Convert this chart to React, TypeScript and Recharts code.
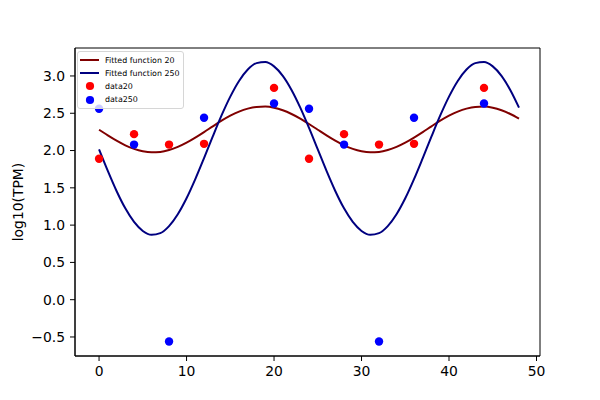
import React from 'react';
import {
  ComposedChart,
  Line,
  Scatter,
  XAxis,
  YAxis,
  ReferenceArea,
  Label,
} from 'recharts';

// Sample times of the measured data
const sampleTimes = [0, 4, 8, 12, 20, 24, 28, 32, 36, 44];
const data20 = [1.89, 2.22, 2.08, 2.09, 2.84, 1.89, 2.22, 2.08, 2.09, 2.84];
const data250 = [2.56, 2.08, -0.56, 2.44, 2.63, 2.56, 2.08, -0.56, 2.44, 2.63];

// Fitted curves at t = 0..48
const fitTimes = [
  0, 1, 2, 3, 4, 5, 6, 7, 8, 9, 10, 11, 12, 13, 14, 15, 16, 17, 18, 19, 20, 21, 22, 23, 24,
  25, 26, 27, 28, 29, 30, 31, 32, 33, 34, 35, 36, 37, 38, 39, 40, 41, 42, 43, 44, 45, 46, 47, 48,
];
const fit20 = [
  2.279, 2.203, 2.132, 2.07, 2.022, 1.99, 1.976, 1.982, 2.007, 2.049, 2.106, 2.174, 2.248, 2.325,
  2.4, 2.467, 2.522, 2.562, 2.585, 2.589, 2.574, 2.54, 2.49, 2.428, 2.356, 2.279, 2.203, 2.132,
  2.07, 2.022, 1.99, 1.976, 1.982, 2.007, 2.049, 2.106, 2.174, 2.248, 2.325, 2.4, 2.467, 2.522,
  2.562, 2.585, 2.589, 2.574, 2.54, 2.49, 2.428,
];
const fit250 = [
  2.015, 1.727, 1.458, 1.225, 1.043, 0.922, 0.871, 0.893, 0.987, 1.146, 1.36, 1.617, 1.899, 2.19,
  2.471, 2.723, 2.933, 3.086, 3.172, 3.187, 3.129, 3.002, 2.813, 2.576, 2.304, 2.015, 1.727, 1.458,
  1.225, 1.043, 0.922, 0.871, 0.893, 0.987, 1.146, 1.36, 1.617, 1.899, 2.19, 2.471, 2.723, 2.933,
  3.086, 3.172, 3.187, 3.129, 3.002, 2.813, 2.576,
];

const xTicks = [0, 10, 20, 30, 40, 50];
const yTicks = [-0.5, 0, 0.5, 1, 1.5, 2, 2.5, 3];
const xDomain = [-2.75, 50.4];
const yDomain = [-0.755, 3.375];

const seriesNames = ['Fitted function 20', 'Fitted function 250', 'data20', 'data250'];
const seriesColors = ['#800000', '#000080', '#ff0000', '#0000ff'];
const seriesKinds = ['line', 'line', 'dot', 'dot'];

const lineData = fitTimes.map((x, i) => ({ x, y20: fit20[i], y250: fit250[i] }));
const scatter20 = sampleTimes.map((x, i) => ({ x, y: data20[i] }));
const scatter250 = sampleTimes.map((x, i) => ({ x, y: data250[i] }));

const FONT = 'DejaVu Sans, sans-serif';

const fmtY = (v: number) => v.toFixed(1).replace('-', '\u2212');

const LegendBox = () => (
  <div
    style={{
      position: 'absolute',
      left: 77,
      top: 51,
      width: 107,
      boxSizing: 'border-box',
      border: '1px solid #d6d6d6',
      borderRadius: 3,
      background: 'rgba(255,255,255,0.8)',
      padding: '1.5px 0 1.5px 0',
      fontFamily: FONT,
      fontSize: 7.9,
      color: '#000',
      lineHeight: '13.2px',
      whiteSpace: 'nowrap',
    }}
  >
    {seriesNames.map((name, i) => (
      <div key={name} style={{ display: 'flex', alignItems: 'center', height: 13.2 }}>
        <svg width={27} height={10} style={{ flex: 'none' }}>
          {seriesKinds[i] === 'line' ? (
            <line x1={2} y1={5} x2={21} y2={5} stroke={seriesColors[i]} strokeWidth={2} />
          ) : (
            <circle cx={12} cy={5} r={4.1} fill={seriesColors[i]} />
          )}
        </svg>
        <span>{name}</span>
      </div>
    ))}
  </div>
);

export default function App() {
  return (
    <div style={{ position: 'absolute', left: 0, top: 0, width: 600, height: 400, background: '#fff' }}>
      <ComposedChart width={600} height={400} margin={{ top: 48, right: 60, bottom: 0, left: 0 }}>
        <XAxis
          type="number"
          dataKey="x"
          domain={xDomain}
          ticks={xTicks}
          allowDataOverflow
          height={44}
          axisLine={{ stroke: '#000' }}
          tickLine={{ stroke: '#000' }}
          tickSize={5}
          tickMargin={5}
          tick={{ fill: '#000', fontSize: 13.9, fontFamily: FONT }}
        />
        <YAxis
          type="number"
          dataKey="y"
          domain={yDomain}
          ticks={yTicks}
          allowDataOverflow
          width={75}
          axisLine={{ stroke: '#000' }}
          tickLine={{ stroke: '#000' }}
          tickSize={5}
          tickMargin={5}
          tickFormatter={fmtY}
          tick={{ fill: '#000', fontSize: 13.9, fontFamily: FONT }}
        >
          <Label
            content={(props: any) => {
              const vb = props.viewBox || { x: 0, y: 48, width: 75, height: 308 };
              const cx = 18;
              const cy = vb.y + vb.height / 2;
              return (
                <text
                  x={cx}
                  y={cy}
                  transform={`rotate(-90 ${cx} ${cy})`}
                  textAnchor="middle"
                  dominantBaseline="central"
                  fontFamily={FONT}
                  fontSize={13.9}
                  fill="#000"
                >
                  log10(TPM)
                </text>
              );
            }}
          />
        </YAxis>
        <Line
          data={lineData}
          dataKey="y20"
          type="monotone"
          stroke={seriesColors[0]}
          strokeWidth={2}
          dot={false}
          activeDot={false}
          isAnimationActive={false}
        />
        <Line
          data={lineData}
          dataKey="y250"
          type="monotone"
          stroke={seriesColors[1]}
          strokeWidth={2}
          dot={false}
          activeDot={false}
          isAnimationActive={false}
        />
        <Scatter
          data={scatter20}
          dataKey="y"
          isAnimationActive={false}
          shape={(p: any) => <circle cx={p.cx} cy={p.cy} r={4.2} fill={seriesColors[2]} />}
        />
        <Scatter
          data={scatter250}
          dataKey="y"
          isAnimationActive={false}
          shape={(p: any) => <circle cx={p.cx} cy={p.cy} r={4.2} fill={seriesColors[3]} />}
        />
        <ReferenceArea
          x1={xDomain[0]}
          x2={xDomain[1]}
          y1={yDomain[0]}
          y2={yDomain[1]}
          fill="none"
          stroke="#000"
          strokeWidth={1}
          ifOverflow="visible"
        />
      </ComposedChart>
      <LegendBox />
    </div>
  );
}
